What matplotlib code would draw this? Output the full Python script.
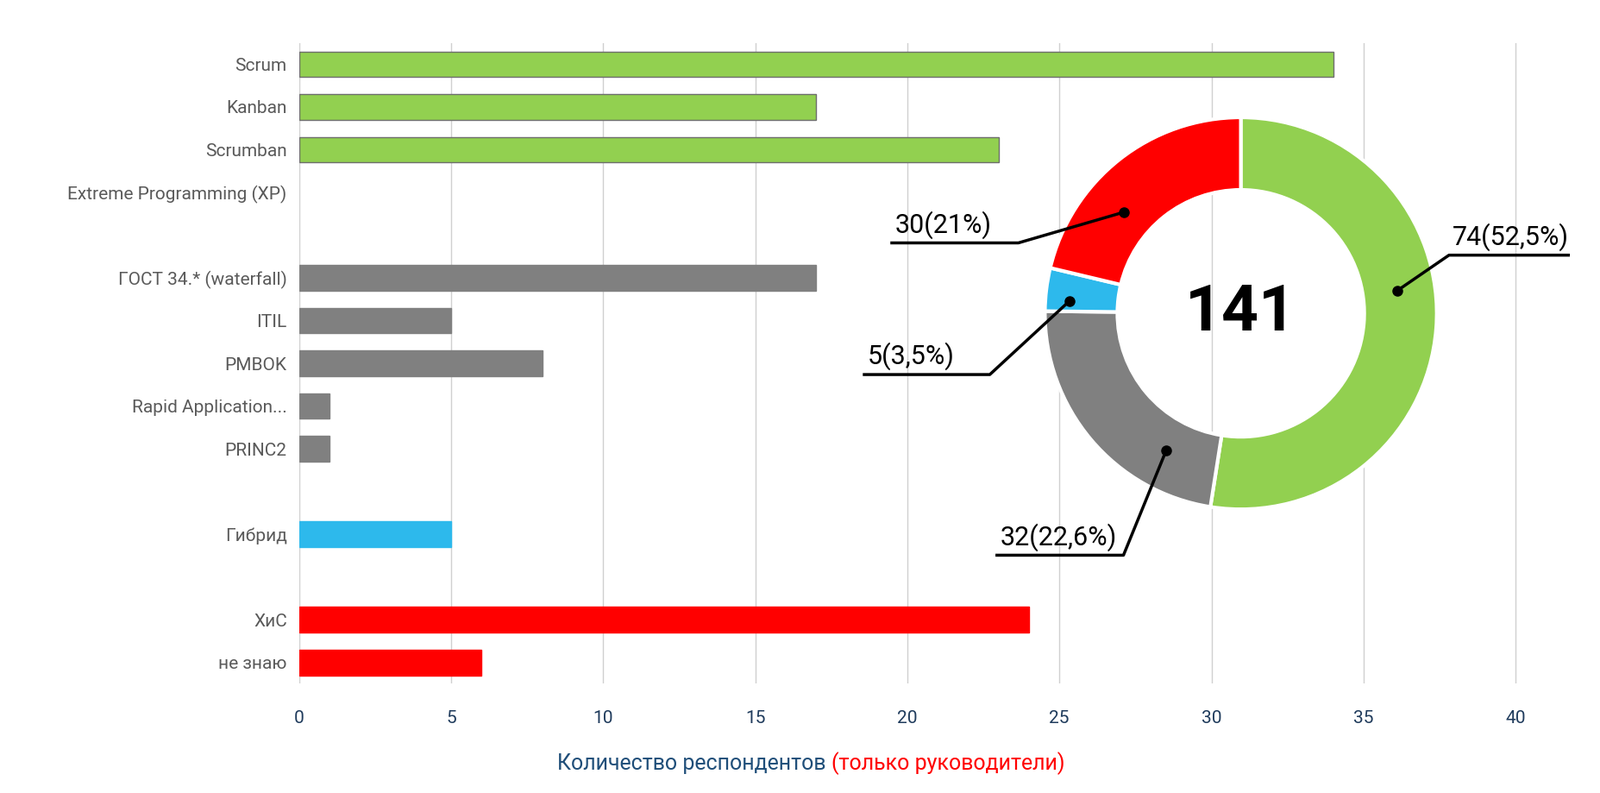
import matplotlib
matplotlib.use("Agg")
import matplotlib.pyplot as plt
import numpy as np
from matplotlib.lines import Line2D

plt.rcParams["font.family"] = "Roboto"

categories = ["Scrum", "Kanban", "Scrumban", "Extreme Programming (XP)", "",
              "ГОСТ 34.* (waterfall)", "ITIL", "PMBOK", "Rapid Application...", "PRINC2", "",
              "Гибрид", "", "ХиС", "не знаю"]
values = [34, 17, 23, 0, 0, 17, 5, 8, 1, 1, 0, 5, 0, 24, 6]
groups = ["g", "g", "g", "g", "", "k", "k", "k", "k", "k", "", "b", "", "r", "r"]
xticks = [0, 5, 10, 15, 20, 25, 30, 35, 40]

donut_values = [74, 32, 5, 30]
donut_labels = ["74(52,5%)", "32(22,6%)", "5(3,5%)", "30(21%)"]
donut_total = "141"

colors = {"g": "#92D050", "k": "#808080", "b": "#2DB9EC", "r": "#FF0000", "": "none"}
W, H = 1568, 777

fig = plt.figure(figsize=(18.55, 9.19), dpi=100)
ax = fig.add_axes([293/W, 1-670/H, (1530-293)/W, (670-42)/H])
y = np.arange(len(categories))
for yi, v, g in zip(y, values, groups):
    if v > 0:
        ax.barh(yi, v, height=0.6, color=colors[g],
                edgecolor="#6e6e6e" if g == "g" else colors[g], linewidth=1)
ax.set_ylim(len(categories)-0.5, -0.5)
ax.set_xlim(0, 41.5)
ax.set_yticks(y)
ax.set_yticklabels(categories, fontsize=15, color="#595959")
ax.set_xticks(xticks)
ax.set_xticklabels([str(t) for t in xticks], fontsize=15, color="#1F3B5C")
ax.tick_params(length=0, pad=10)
ax.tick_params(axis="x", pad=22)
ax.grid(axis="x", color="#d0d0d0", linewidth=1)
ax.set_axisbelow(True)
for s in ax.spines.values():
    s.set_visible(False)

fig.text(815/W, 1-748/H, "Количество респондентов ", ha="right", va="center", fontsize=18, color="#1F4E79")
fig.text(815/W, 1-748/H, "(только руководители)", ha="left", va="center", fontsize=18, color="#FF0000")

# donut
cx, cy, R = 1216, 307, 192
dax = fig.add_axes([(cx-R)/W, 1-(cy+R)/H, 2*R/W, 2*R/H])
dcol = [colors["g"], colors["k"], colors["b"], colors["r"]]
wedges, _ = dax.pie(donut_values, colors=dcol, startangle=90, counterclock=False,
                    radius=1, wedgeprops=dict(width=0.37, edgecolor="white", linewidth=3))
dax.set_aspect("auto")
dax.set_xlim(-1, 1); dax.set_ylim(-1, 1)
dax.text(0, 0, donut_total, ha="center", va="center", fontsize=54, fontweight="bold")

def f(x, y):
    return (x/W, 1-y/H)

lines = [((1369, 285), (1420, 250), 1537, "left"),
         ((1143, 441), (1101, 544), 977, "right"),
         ((1048, 295), (970, 367), 847, "right"),
         ((1101, 208), (998, 238), 874, "right")]
for (d, k, hx, side), lab in zip(lines, donut_labels):
    xs = [d[0], k[0], hx]
    ys = [d[1], k[1], k[1]]
    fig.add_artist(Line2D([x/W for x in xs], [1-v/H for v in ys], color="black", lw=2.5,
                          transform=fig.transFigure))
    fig.add_artist(Line2D([d[0]/W], [1-d[1]/H], marker="o", color="black", ms=8,
                          transform=fig.transFigure))
    tx = min(k[0], hx)
    fig.text(tx/W + 0.002, 1-(k[1]-4)/H, lab, ha="left", va="bottom", fontsize=22)

fig.savefig("out.png", dpi=100)
